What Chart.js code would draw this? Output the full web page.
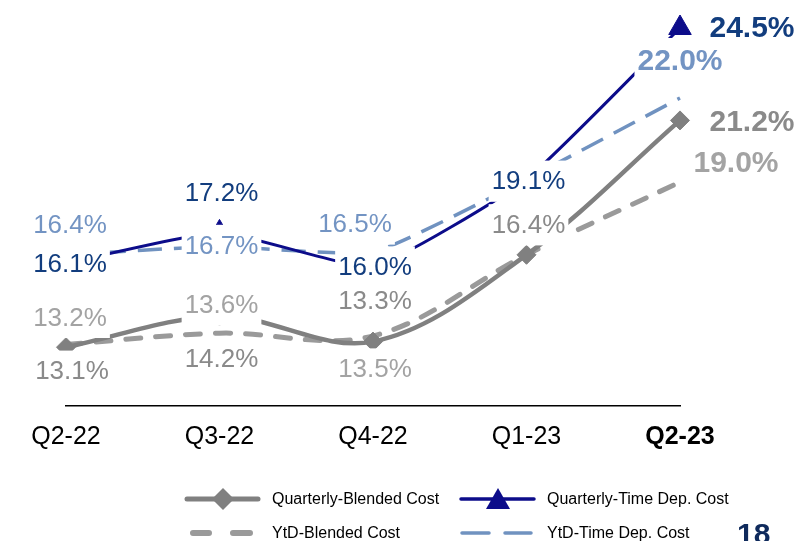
<!DOCTYPE html>
<html>
<head>
<meta charset="utf-8">
<script src="https://cdn.jsdelivr.net/npm/chart.js@4"></script>
<style>
  html, body { margin: 0; padding: 0; background: #ffffff; }
  #wrap { width: 804px; height: 541px; position: relative; }
</style>
</head>
<body>
<div id="wrap"><canvas id="c" width="804" height="541"></canvas></div>
<script>
// ---- data ----
const categories = ['Q2-22', 'Q3-22', 'Q4-22', 'Q1-23', 'Q2-23'];
const quarterlyBlended = [13.1, 14.2, 13.3, 16.4, 21.2];
const ytdBlended = [13.2, 13.6, 13.5, 16.4, 19.0];
const quarterlyTimeDep = [16.1, 17.2, 16.0, 19.1, 24.5];
const ytdTimeDep = [16.4, 16.7, 16.5, 19.1, 22.0];
const seriesNames = ['Quarterly-Blended Cost', 'YtD-Blended Cost', 'Quarterly-Time Dep. Cost', 'YtD-Time Dep. Cost'];
const pageNumber = '18';

// ---- label placement (pixel offsets from each point; null = no label) ----
const labelOffsets = [
  [[6, 24], [2, 42], [2, -41], [2, -30], [72, 1]],
  [[4, -27], [2, -28], [2, 33], null, [56, -19]],
  [[4, 1], [2, -40], [2, 1], [2, 2], [72, 0]],
  [[4, -30], [2, -1], [-18, -28], null, [0, -37]]
];
const labelColors = ['#8a8a8a', '#a3a3a3', '#123d7e', '#7394c3'];
const lineColors = ['#808080', '#9a9a9a', '#0c0c8a', '#7092c0'];
const FONT = '"Liberation Sans", Arial, Helvetica, sans-serif';

const labelPlugin = {
  id: 'pointLabels',
  afterDatasetsDraw(chart) {
    const ctx = chart.ctx;
    const last = categories.length - 1;
    ctx.save();
    chart.data.datasets.forEach((ds, i) => {
      const meta = chart.getDatasetMeta(i);
      ds.data.forEach((v, j) => {
        const off = labelOffsets[i][j];
        if (!off) return;
        const el = meta.data[j];
        const x = el.x + off[0], y = el.y + off[1];
        const bold = j === last;
        const size = bold ? 30 : 26;
        ctx.font = (bold ? 'bold ' : '') + size + 'px ' + FONT;
        const txt = v.toFixed(1) + '%';
        const w = ctx.measureText(txt).width + 6;
        const h = size * 1.2 + 10;
        ctx.fillStyle = '#ffffff';
        ctx.fillRect(x - w / 2, y - h / 2, w, h);
        ctx.fillStyle = labelColors[i];
        ctx.textAlign = 'center';
        ctx.textBaseline = 'middle';
        ctx.fillText(txt, x, y + 1);
      });
    });
    ctx.restore();
  },
  afterDraw(chart) {
    const ctx = chart.ctx;
    ctx.save();
    ctx.font = '16px ' + FONT;
    ctx.textBaseline = 'middle';
    ctx.textAlign = 'left';
    const names = chart.data.datasets.map(d => d.label);
    let y1 = 499, y2 = 533;
    // Quarterly-Blended
    ctx.strokeStyle = lineColors[0]; ctx.lineWidth = 5; ctx.lineCap = 'round';
    ctx.beginPath(); ctx.moveTo(187, y1); ctx.lineTo(258, y1); ctx.stroke();
    ctx.fillStyle = lineColors[0];
    ctx.beginPath(); ctx.moveTo(223, y1 - 11); ctx.lineTo(234, y1); ctx.lineTo(223, y1 + 11); ctx.lineTo(212, y1); ctx.closePath(); ctx.fill();
    ctx.fillStyle = '#000000'; ctx.fillText(names[0], 272, y1 + 1);
    // Quarterly-Time
    ctx.strokeStyle = lineColors[2]; ctx.lineWidth = 3.5; ctx.lineCap = 'round';
    ctx.beginPath(); ctx.moveTo(461, y1); ctx.lineTo(534, y1); ctx.stroke();
    ctx.fillStyle = lineColors[2];
    ctx.beginPath(); ctx.moveTo(498, y1 - 11); ctx.lineTo(510, y1 + 10); ctx.lineTo(486, y1 + 10); ctx.closePath(); ctx.fill();
    ctx.fillStyle = '#000000'; ctx.fillText(names[2], 547, y1 + 1);
    // YtD-Blended
    ctx.strokeStyle = lineColors[1]; ctx.lineWidth = 6; ctx.lineCap = 'round';
    ctx.beginPath(); ctx.moveTo(193, y2); ctx.lineTo(209, y2); ctx.moveTo(233, y2); ctx.lineTo(250, y2); ctx.stroke();
    ctx.fillStyle = '#000000'; ctx.fillText(names[1], 272, y2 + 1);
    // YtD-Time
    ctx.strokeStyle = lineColors[3]; ctx.lineWidth = 3.5; ctx.lineCap = 'round';
    ctx.beginPath(); ctx.moveTo(462, y2); ctx.lineTo(489, y2); ctx.moveTo(505, y2); ctx.lineTo(531, y2); ctx.stroke();
    ctx.fillStyle = '#000000'; ctx.fillText(names[3], 547, y2 + 1);
    // page number
    ctx.font = 'bold 30px ' + FONT;
    ctx.fillStyle = '#0f2a5c';
    ctx.textBaseline = 'alphabetic';
    ctx.fillText(pageNumber, 737, 544);
    ctx.restore();
  }
};

new Chart(document.getElementById('c'), {
  type: 'line',
  data: {
    labels: categories,
    datasets: [
      { label: seriesNames[0], data: quarterlyBlended, borderColor: lineColors[0], borderWidth: 4.5,
        tension: 0.35, pointStyle: 'rectRot', pointRadius: 9.5, pointBackgroundColor: lineColors[0],
        pointBorderColor: lineColors[0], pointBorderWidth: 1, clip: false, order: 1 },
      { label: seriesNames[1], data: ytdBlended, borderColor: lineColors[1], borderWidth: 5,
        borderDash: [15, 15], borderCapStyle: 'round', tension: 0.35, pointRadius: 0, clip: false, order: 2 },
      { label: seriesNames[2], data: quarterlyTimeDep, borderColor: lineColors[2], borderWidth: 3,
        tension: 0.15, pointStyle: 'triangle', pointRadius: 13, pointBackgroundColor: lineColors[2],
        pointBorderColor: lineColors[2], pointBorderWidth: 1, clip: false, order: 3 },
      { label: seriesNames[3], data: ytdTimeDep, borderColor: lineColors[3], borderWidth: 3.5,
        borderDash: [24, 12], tension: 0.15, pointRadius: 0, clip: false, order: 4 }
    ]
  },
  options: {
    responsive: false,
    animation: false,
    layout: { padding: { left: 66, right: 124, top: 8, bottom: 0 } },
    plugins: { legend: { display: false }, tooltip: { enabled: false }, title: { display: false } },
    scales: {
      x: {
        type: 'category',
        offset: false,
        grid: { display: false, drawTicks: false },
        border: { display: true, color: '#000000', width: 1.5 },
        ticks: {
          color: '#000000',
          padding: 16,
          autoSkip: false,
          maxRotation: 0,
          font: (c) => ({ family: FONT, size: 25, weight: c.index === categories.length - 1 ? 'bold' : 'normal' })
        },
        afterFit: (s) => { s.height = 135; }
      },
      y: { display: false, min: 11, max: 25 }
    }
  },
  plugins: [labelPlugin]
});
</script>
</body>
</html>
